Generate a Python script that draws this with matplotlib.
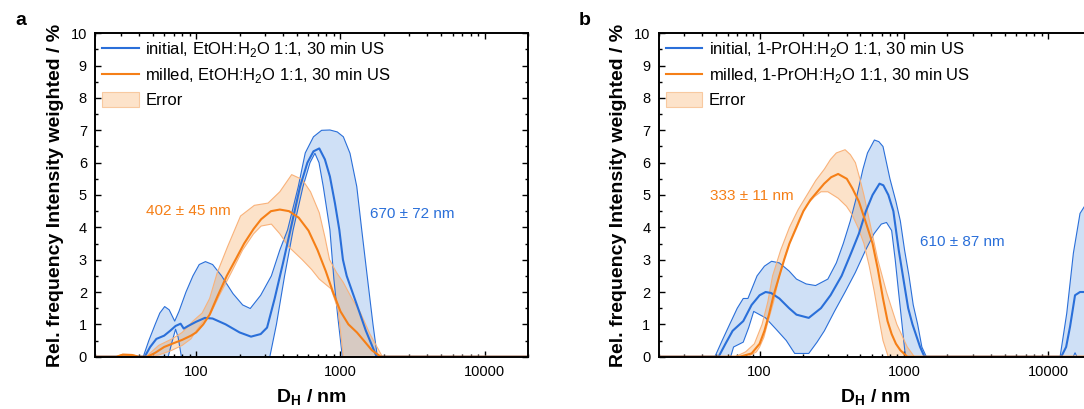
import numpy as np
import matplotlib
matplotlib.use("Agg")
import matplotlib.pyplot as plt
from matplotlib.patches import Patch
from matplotlib.ticker import LogLocator, MultipleLocator, FuncFormatter, NullFormatter

plt.rcParams['font.family'] = ['Liberation Sans', 'DejaVu Sans']
plt.rcParams['mathtext.fontset'] = 'custom'
plt.rcParams['mathtext.rm'] = 'Liberation Sans'
plt.rcParams['mathtext.bf'] = 'Liberation Sans:bold'

BLUE = '#2a6fd9'
ORANGE = '#f57f17'

# ---- panel a : EtOH:H2O ----
a_blue_x = [20, 44, 48, 53, 60, 66, 72, 78, 82, 88, 100, 115, 130, 160, 200, 240, 280, 310, 350, 400,
            450, 525, 590, 650, 713, 780, 845, 916, 982, 1040, 1104, 1300, 1500, 1780, 20000]
a_blue_y = [0, 0, 0.3, 0.55, 0.65, 0.8, 0.95, 1.02, 0.87, 0.95, 1.08, 1.2, 1.18, 1.0, 0.75, 0.62, 0.7, 0.9, 1.8, 2.9,
            3.92, 5.26, 6.0, 6.35, 6.44, 6.1, 5.57, 4.74, 3.92, 3.0, 2.5, 1.6, 0.8, 0, 0]
a_blue_up_x = [20, 43, 47, 52, 56, 60.5, 65, 71, 76, 85, 95, 105, 116, 130, 150, 180, 210, 237, 280, 332, 380,
               430, 510, 570, 650, 740, 845, 950, 1047, 1164, 1297, 1404, 1550, 1680, 1800, 20000]
a_blue_up_y = [0, 0, 0.5, 1.0, 1.35, 1.55, 1.45, 1.1, 1.4, 2.0, 2.5, 2.85, 2.94, 2.85, 2.5, 1.95, 1.6, 1.49, 1.9, 2.5, 3.3,
               3.92, 5.26, 6.3, 6.8, 7.0, 7.01, 6.95, 6.8, 6.29, 5.26, 3.92, 2.3, 1.0, 0, 0]
a_blue_lo_x = [20, 64, 68, 72, 75, 79, 324, 360, 410, 470, 550, 615, 665, 710, 760, 845, 900, 960, 1030, 20000]
a_blue_lo_y = [0, 0, 0.45, 0.85, 0.6, 0, 0, 1.0, 2.5, 3.92, 5.26, 6.0, 6.29, 6.0, 5.26, 3.92, 2.4, 1.2, 0, 0]

a_or_x = [20, 28, 31, 36, 40, 46, 52, 60, 70, 80, 92, 100, 112, 124, 140, 163, 190, 215, 250, 282, 330, 380,
          440, 513, 600, 693, 790, 887, 1000, 1135, 1300, 1450, 1650, 1900, 20000]
a_or_y = [0, 0, 0.06, 0.05, 0, 0, 0.12, 0.3, 0.42, 0.52, 0.65, 0.75, 1.0, 1.3, 1.85, 2.5, 3.05, 3.5, 3.95, 4.25, 4.5, 4.55,
          4.5, 4.3, 3.9, 3.3, 2.65, 2.0, 1.4, 1.0, 0.75, 0.5, 0.2, 0, 0]
a_or_up_x = [20, 28, 31, 36, 40, 45, 55, 68, 80, 95, 110, 124, 140, 165, 203, 253, 315, 380, 459, 543, 620,
             713, 780, 840, 940, 1045, 1200, 1372, 1600, 1950, 20000]
a_or_up_y = [0, 0, 0.08, 0.07, 0, 0, 0.35, 0.55, 0.75, 1.1, 1.35, 1.8, 2.6, 3.4, 4.35, 4.68, 4.75, 5.1, 5.63, 5.48, 5.1,
             4.45, 3.7, 3.0, 2.6, 2.3, 1.8, 1.37, 0.7, 0, 0]
a_or_lo_x = [20, 45, 55, 68, 80, 92, 100, 112, 125, 145, 175, 210, 250, 282, 332, 380, 437, 543, 630, 713,
             860, 962, 1000, 1045, 20000]
a_or_lo_y = [0, 0, 0.05, 0.2, 0.35, 0.55, 0.8, 1.1, 1.3, 1.9, 2.6, 3.3, 3.8, 4.04, 4.1, 3.8, 3.4, 3.0, 2.7, 2.4,
             2.1, 1.47, 0.8, 0, 0]

# ---- panel b : 1-PrOH:H2O ----
b_blue_x = [20, 52, 58, 65, 77, 88, 100, 110, 120, 137, 160, 180, 219, 266, 310, 370, 430, 487, 545, 606, 677,
            720, 780, 845, 920, 1000, 1070, 1146, 1294, 1387, 12300, 13300, 14160, 15330, 16600, 20000]
b_blue_y = [0, 0, 0.4, 0.8, 1.1, 1.6, 1.9, 2.0, 1.97, 1.8, 1.5, 1.3, 1.2, 1.5, 1.9, 2.5, 3.2, 3.8, 4.5, 5.0, 5.35,
            5.3, 5.0, 4.5, 3.3, 2.3, 1.5, 1.0, 0.3, 0, 0, 0.3, 0.93, 1.9, 2.0, 2.0]
b_blue_up_x = [20, 49, 55, 62, 70, 77, 83, 96, 108, 121, 137, 160, 180, 210, 244, 297, 340, 380, 425, 473, 520,
               559, 624, 670, 716, 800, 880, 944, 1010, 1084, 1160, 1245, 1331, 1429, 12080, 13430, 14930, 16600, 20000]
b_blue_up_y = [0, 0, 0.5, 1.0, 1.5, 1.8, 1.8, 2.5, 2.8, 2.95, 2.9, 2.65, 2.4, 2.25, 2.2, 2.4, 2.9, 3.5, 4.2, 5.0, 5.8,
               6.3, 6.7, 6.65, 6.5, 5.5, 4.8, 4.2, 3.3, 2.5, 1.6, 1.0, 0.3, 0, 0, 1.34, 3.2, 4.43, 5.0]
b_blue_lo_x = [20, 63, 66, 77, 84, 91, 100, 110, 130, 153, 175, 219, 250, 281, 330, 391, 460, 543, 620, 697,
               757, 822, 870, 918, 970, 1024, 14900, 15330, 15800, 20000]
b_blue_lo_y = [0, 0, 0.3, 0.45, 0.9, 1.4, 1.3, 1.2, 0.85, 0.5, 0.1, 0.1, 0.45, 0.8, 1.4, 2.0, 2.6, 3.3, 3.8, 4.1,
               4.15, 3.9, 3.0, 2.0, 1.0, 0, 0, 0.12, 0, 0]

b_or_x = [20, 73, 88, 100, 108, 116, 125, 137, 148, 161, 180, 201, 225, 251, 280, 313, 350, 402, 440, 487, 540,
          606, 660, 716, 770, 822, 880, 944, 1055, 20000]
b_or_y = [0, 0, 0.1, 0.4, 0.8, 1.3, 1.9, 2.5, 3.0, 3.5, 4.0, 4.5, 4.85, 5.1, 5.35, 5.55, 5.65, 5.5, 5.2, 4.8, 4.2,
          3.5, 2.7, 1.8, 1.1, 0.7, 0.4, 0.2, 0, 0]
b_or_up_x = [20, 68, 80, 92, 104, 114, 123, 140, 161, 185, 213, 245, 281, 310, 340, 391, 425, 461, 495, 528, 590,
             659, 757, 893, 1055, 1180, 20000]
b_or_up_y = [0, 0, 0.15, 0.4, 1.0, 1.7, 2.5, 3.3, 4.0, 4.55, 5.0, 5.45, 5.8, 6.1, 6.3, 6.4, 6.25, 6.0, 5.5, 5.0, 4.0,
             3.0, 2.0, 1.0, 0.3, 0, 0]
b_or_lo_x = [20, 83, 95, 100, 107, 113, 125, 137, 152, 171, 190, 213, 240, 266, 297, 350, 400, 436, 480, 528, 575,
             624, 670, 716, 778, 20000]
b_or_lo_y = [0, 0, 0.15, 0.3, 0.6, 1.0, 1.7, 2.5, 3.2, 3.8, 4.3, 4.7, 4.95, 5.1, 5.1, 4.9, 4.65, 4.4, 4.0, 3.5, 2.8,
             2.0, 1.2, 0.5, 0, 0]

labels_a = ['initial, EtOH:H$_2$O 1:1, 30 min US', 'milled, EtOH:H$_2$O 1:1, 30 min US']
labels_b = ['initial, 1-PrOH:H$_2$O 1:1, 30 min US', 'milled, 1-PrOH:H$_2$O 1:1, 30 min US']
notes_a = [('402 ± 45 nm', 44.6, 4.5, ORANGE), ('670 ± 72 nm', 1600, 4.42, BLUE)]
notes_b = [('333 ± 11 nm', 45.4, 4.96, ORANGE), ('610 ± 87 nm', 1300, 3.56, BLUE)]


def band(ax, xu, yu, xl, yl, face, alpha, edge):
    px = np.concatenate([xu, xl[::-1]])
    py = np.concatenate([yu, yl[::-1]])
    ax.fill(px, py, color=face, alpha=alpha, lw=0)
    ax.plot(xu, yu, color=edge, lw=0.8)
    ax.plot(xl, yl, color=edge, lw=0.8)


def panel(ax, blue, blue_up, blue_lo, orange, orange_up, orange_lo, labels, notes, letter):
    band(ax, *blue_up, *blue_lo, (15/255, 100/255, 210/255), 0.2, BLUE)
    band(ax, *orange_up, *orange_lo, (245/255, 122/255, 3/255), 0.21, '#f9b27a')
    l1, = ax.plot(*blue, color=BLUE, lw=1.5)
    l2, = ax.plot(*orange, color=ORANGE, lw=1.5)
    err = Patch(facecolor='#fde3ca', edgecolor='#f8c9a0', lw=0.8)

    ax.set_xscale('log')
    ax.set_xlim(20, 20000)
    ax.set_ylim(0, 10)
    ax.xaxis.set_major_locator(LogLocator(base=10, numticks=10))
    ax.xaxis.set_minor_locator(LogLocator(base=10, subs=np.arange(2, 10), numticks=20))
    ax.xaxis.set_major_formatter(FuncFormatter(lambda v, p: '%d' % v))
    ax.xaxis.set_minor_formatter(NullFormatter())
    ax.yaxis.set_major_locator(MultipleLocator(1))
    ax.yaxis.set_minor_locator(MultipleLocator(0.5))
    ax.tick_params(which='both', direction='in', top=True, right=True, labelsize=10.5, pad=6, width=1.0)
    ax.tick_params(which='major', length=4)
    ax.tick_params(which='minor', length=2.4)
    for s in ax.spines.values():
        s.set_linewidth(1.4)

    ax.set_xlabel(r'D$_\mathbf{H}$ / nm', fontsize=14, fontweight='bold', labelpad=6.5)
    ax.set_ylabel('Rel. frequency Intensity weighted / %', fontsize=14, fontweight='bold', labelpad=5)

    ax.legend([l1, l2, err], labels + ['Error'], loc='upper left', bbox_to_anchor=(0, 1),
              frameon=False, fontsize=12, handlelength=2.2, handleheight=1.0, handletextpad=0.38,
              labelspacing=0.42, borderaxespad=0, borderpad=0.42)

    for txt, x, y, c in notes:
        ax.text(x, y, txt, color=c, fontsize=11, ha='left', va='center')

    ax.text(-0.185, 1.04, letter, transform=ax.transAxes, fontsize=14, fontweight='bold',
            ha='left', va='center')


fig = plt.figure(figsize=(10.84, 4.09), dpi=100)
ax_a = fig.add_axes([0.0879, 0.1279, 0.3994, 0.7907])
ax_b = fig.add_axes([0.6077, 0.1279, 0.3994, 0.7907])

panel(ax_a, (a_blue_x, a_blue_y), (a_blue_up_x, a_blue_up_y), (a_blue_lo_x, a_blue_lo_y),
      (a_or_x, a_or_y), (a_or_up_x, a_or_up_y), (a_or_lo_x, a_or_lo_y), labels_a, notes_a, 'a')
panel(ax_b, (b_blue_x, b_blue_y), (b_blue_up_x, b_blue_up_y), (b_blue_lo_x, b_blue_lo_y),
      (b_or_x, b_or_y), (b_or_up_x, b_or_up_y), (b_or_lo_x, b_or_lo_y), labels_b, notes_b, 'b')

fig.savefig('out.png', dpi=100)
